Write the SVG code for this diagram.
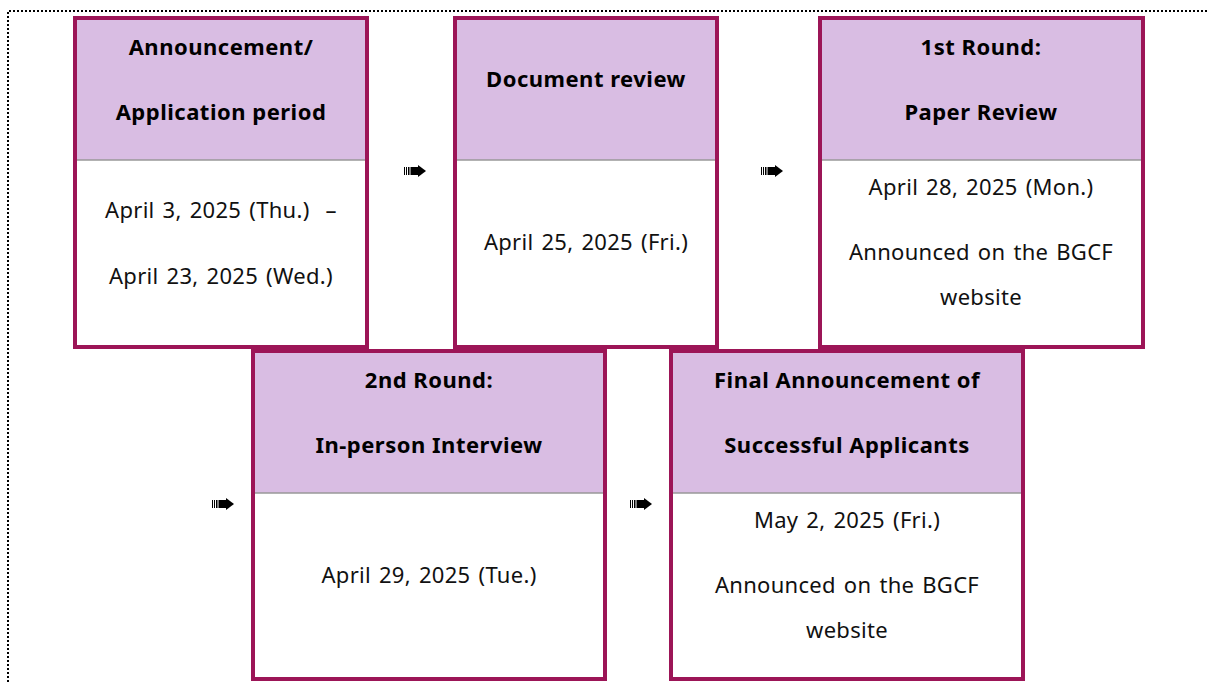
<svg xmlns="http://www.w3.org/2000/svg" width="1209" height="682" viewBox="0 0 1209 682">
<style>
.frame{fill:none;stroke:#000;stroke-width:2;stroke-dasharray:2 2}
.box{fill:#fff;stroke:#9c1557;stroke-width:4}
.hd{fill:#d9bde3}
.div{stroke:#999;stroke-width:1.5}
.h{font-family:"Noto Sans","Open Sans",sans-serif;font-weight:bold;font-size:22px;letter-spacing:0.5px;fill:#000;text-anchor:middle}
.b{font-family:"Noto Sans","Open Sans",sans-serif;font-size:22px;letter-spacing:0.3px;word-spacing:2px;fill:#111;text-anchor:middle}
</style>
<defs>
<g id="arrow" fill="#000">
<rect x="0" y="-4" width="1" height="8"/>
<rect x="2" y="-4" width="1" height="8"/>
<rect x="4" y="-4" width="1.5" height="8"/>
<rect x="6.5" y="-4" width="8" height="8"/>
<polygon points="14,-6 22,0 14,6"/>
</g>
</defs>
<rect width="1209" height="682" fill="#fff"/>
<path class="frame" d="M8 690 V11 H1215"/>
<g id="n1">
<rect class="box" x="75" y="18" width="292" height="329"/>
<rect class="hd" x="77" y="20" width="288" height="140"/>
<line class="div" x1="77" y1="160" x2="365" y2="160"/>
<text class="h" x="221" y="55">Announcement/</text>
<text class="h" x="221" y="120">Application period</text>
<text class="b" x="221" y="218" xml:space="preserve">April 3, 2025 (Thu.)  –</text>
<text class="b" x="221" y="284">April 23, 2025 (Wed.)</text>
</g>
<g id="n2">
<rect class="box" x="455" y="18" width="262" height="329"/>
<rect class="hd" x="457" y="20" width="258" height="140"/>
<line class="div" x1="457" y1="160" x2="715" y2="160"/>
<text class="h" x="586" y="87">Document review</text>
<text class="b" x="586" y="250">April 25, 2025 (Fri.)</text>
</g>
<g id="n3">
<rect class="box" x="820" y="18" width="323" height="329"/>
<rect class="hd" x="822" y="20" width="319" height="140"/>
<line class="div" x1="822" y1="160" x2="1141" y2="160"/>
<text class="h" x="981" y="55">1st Round:</text>
<text class="h" x="981" y="120">Paper Review</text>
<text class="b" x="981" y="195">April 28, 2025 (Mon.)</text>
<text class="b" x="981" y="260">Announced on the BGCF</text>
<text class="b" x="981" y="305">website</text>
</g>
<g id="n4">
<rect class="box" x="253" y="351" width="352" height="328"/>
<rect class="hd" x="255" y="353" width="348" height="140"/>
<line class="div" x1="255" y1="493" x2="603" y2="493"/>
<text class="h" x="429" y="388">2nd Round:</text>
<text class="h" x="429" y="453">In-person Interview</text>
<text class="b" x="429" y="583">April 29, 2025 (Tue.)</text>
</g>
<g id="n5">
<rect class="box" x="671" y="351" width="352" height="328"/>
<rect class="hd" x="673" y="353" width="348" height="140"/>
<line class="div" x1="673" y1="493" x2="1021" y2="493"/>
<text class="h" x="847" y="388">Final Announcement of</text>
<text class="h" x="847" y="453">Successful Applicants</text>
<text class="b" x="847" y="528">May 2, 2025 (Fri.)</text>
<text class="b" x="847" y="593">Announced on the BGCF</text>
<text class="b" x="847" y="638">website</text>
</g>
<g id="connectors">
<use href="#arrow" x="404" y="171"/>
<use href="#arrow" x="761" y="171"/>
<use href="#arrow" x="212" y="504"/>
<use href="#arrow" x="630" y="504"/>
</g>
</svg>
